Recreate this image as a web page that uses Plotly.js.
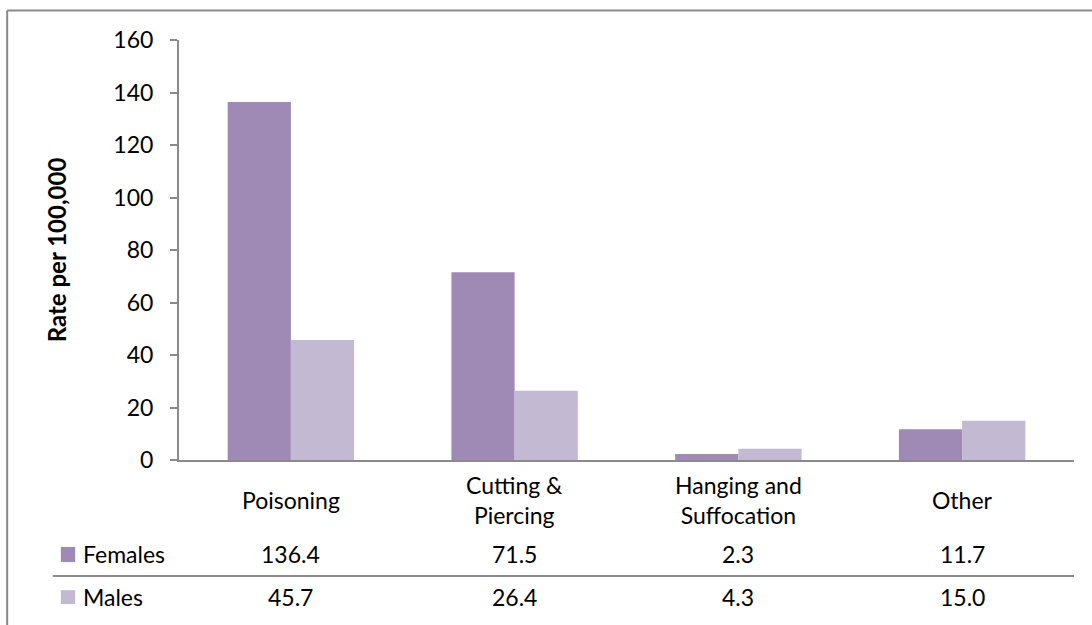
<!DOCTYPE html>
<html>
<head>
<meta charset="utf-8">
<script src="https://cdn.plot.ly/plotly-3.0.1.min.js"></script>
<style>html,body{margin:0;padding:0;background:#fff}#chart{width:1092px;height:625px}</style>
</head>
<body>
<div id="chart"></div>
<script>
const categories = ["Poisoning", "Cutting &<br>Piercing", "Hanging and<br>Suffocation", "Other"];
const seriesNames = ["Females", "Males"];
const females = [136.4, 71.5, 2.3, 11.7];
const males = [45.7, 26.4, 4.3, 15.0];
const yTicks = [0, 20, 40, 60, 80, 100, 120, 140, 160];
const colors = ["#9e8ab5", "#c3b9d2"];

const FONT = "Lato, 'Open Sans', sans-serif";
const FS = 23;
const seriesValues = [females, males];

const traces = seriesValues.map((vals, i) => ({
  type: "bar",
  name: seriesNames[i],
  x: categories,
  y: vals,
  marker: {color: colors[i]},
  hoverinfo: "x+y+name",
  showlegend: false
}));

// table geometry (paper coords relative to plot area)
const rowY = [-0.224, -0.326];
const keyY = [[-0.243, -0.207], [-0.343, -0.310]];
const labelY = -0.095;
const annotations = [];
categories.forEach((c) => {
  annotations.push({x: c, xref: "x", y: labelY, yref: "paper", text: c, showarrow: false,
    xanchor: "center", yanchor: "middle", font: {family: FONT, size: FS, color: "#000"}});
});
seriesValues.forEach((vals, i) => {
  annotations.push({x: -0.109, xref: "paper", y: rowY[i], yref: "paper", text: seriesNames[i], showarrow: false,
    xanchor: "left", yanchor: "middle", font: {family: FONT, size: FS, color: "#000"}});
  vals.forEach((v, j) => {
    annotations.push({x: categories[j], xref: "x", y: rowY[i], yref: "paper", text: v.toFixed(1), showarrow: false,
      xanchor: "center", yanchor: "middle", font: {family: FONT, size: FS, color: "#000"}});
  });
});

const shapes = [];
seriesValues.forEach((vals, i) => {
  shapes.push({type: "rect", xref: "paper", yref: "paper", x0: -0.132, x1: -0.116,
    y0: keyY[i][0], y1: keyY[i][1], fillcolor: colors[i], line: {width: 0}});
});
// row separator
shapes.push({type: "line", xref: "paper", yref: "paper", x0: -0.141, x1: 1, y0: -0.276, y1: -0.276,
  line: {color: "#8a8a8a", width: 2}});
// outer frame (top and left)
shapes.push({type: "line", xref: "paper", yref: "paper", x0: -0.192, x1: 1.03, y0: 1.07, y1: 1.07,
  line: {color: "#8a8a8a", width: 2}});
shapes.push({type: "line", xref: "paper", yref: "paper", x0: -0.192, x1: -0.192, y0: 1.07, y1: -0.4,
  line: {color: "#8a8a8a", width: 2}});

const layout = {
  width: 1092, height: 625,
  margin: {l: 179, r: 18, t: 40, b: 165},
  paper_bgcolor: "#fff", plot_bgcolor: "#fff",
  barmode: "group", bargap: 0.435, bargroupgap: 0,
  font: {family: FONT, size: FS, color: "#000"},
  xaxis: {type: "category", showticklabels: false, ticks: "", showline: true, linecolor: "#8a8a8a",
    linewidth: 2, showgrid: false, zeroline: false, fixedrange: true},
  yaxis: {range: [0, 160], tickvals: yTicks, ticktext: yTicks.map(String), ticks: "outside", ticklen: 7,
    tickcolor: "#8a8a8a", tickwidth: 2, showline: true, linecolor: "#8a8a8a", linewidth: 2,
    showgrid: false, zeroline: false, ticklabelstandoff: 12,
    tickfont: {family: FONT, size: FS, color: "#000"},
    title: {text: "<b>Rate per 100,000</b>", font: {family: FONT, size: 24, color: "#000"}, standoff: 40}},
  annotations: annotations,
  shapes: shapes
};

Plotly.newPlot("chart", traces, layout, {displayModeBar: false, staticPlot: true});
</script>
</body>
</html>
